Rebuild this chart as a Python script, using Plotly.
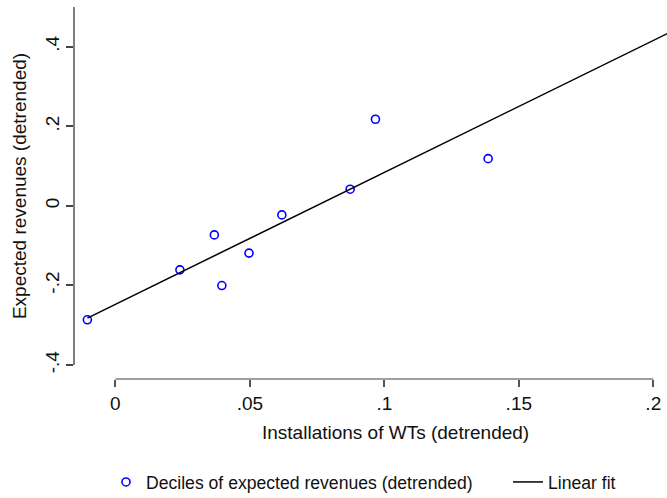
import plotly.graph_objects as go

# Data
decile_x = [-0.0104, 0.0240, 0.0368, 0.0396, 0.0497, 0.0619, 0.0873, 0.0967, 0.1386]
decile_y = [-0.2864, -0.1608, -0.0729, -0.2003, -0.1188, -0.0226, 0.0420, 0.2178, 0.1188]
fit_x = [-0.0104, 0.21]
fit_y = [-0.282, 0.449]

x_ticks = [0, 0.05, 0.1, 0.15, 0.2]
x_ticklabels = ["0", ".05", ".1", ".15", ".2"]
y_ticks = [-0.4, -0.2, 0, 0.2, 0.4]
y_ticklabels = ["-.4", "-.2", "0", ".2", ".4"]
x_title = "Installations of WTs (detrended)"
y_title = "Expected revenues (detrended)"

FONT = "Liberation Sans, Arial, sans-serif"
W, H = 667, 498
M_L, M_R, M_T, M_B = 75, 0, 7, 119
plot_h = H - M_T - M_B
ydom_bottom = (379 - 365) / plot_h

fig = go.Figure()
fig.add_trace(go.Scatter(
    x=decile_x, y=decile_y, mode="markers",
    name="Deciles of expected revenues (detrended)",
    marker=dict(symbol="circle-open", size=8, color="#0000ff", line=dict(width=1.6, color="#0000ff")),
    cliponaxis=False, legend="legend",
))
fig.add_trace(go.Scatter(
    x=fit_x, y=fit_y, mode="lines", name="Linear fit",
    line=dict(color="#000000", width=1.5), legend="legend2",
))

axis_gray = "#7f7f7f"
leg_common = dict(
    orientation="h", xref="container", yref="container",
    xanchor="left", yanchor="middle",
    font=dict(size=17.6), bgcolor="rgba(0,0,0,0)",
)
fig.update_layout(
    width=W, height=H,
    margin=dict(l=M_L, r=M_R, t=M_T, b=M_B, autoexpand=False),
    paper_bgcolor="white", plot_bgcolor="white",
    font=dict(family=FONT, size=19, color="#111111"),
    xaxis=dict(
        range=[-0.015, 0.2051], domain=[0, 1], anchor="free", position=0,
        automargin=False,
        showline=False, showgrid=False, zeroline=False,
        ticks="outside", ticklen=7, tickwidth=1.5, tickcolor="#555555",
        tickvals=x_ticks, ticktext=x_ticklabels, tickfont=dict(size=19),
    ),
    yaxis=dict(
        range=[-0.4, 0.5], domain=[ydom_bottom, 1], automargin=False,
        showline=True, linecolor=axis_gray, linewidth=1.5,
        showgrid=False, zeroline=False,
        ticks="outside", ticklen=7, tickwidth=1.5, tickcolor="#444444",
        tickvals=y_ticks, ticktext=y_ticklabels, tickangle=-90, tickfont=dict(size=19),
        title=dict(text=y_title, font=dict(size=19), standoff=10),
    ),
    legend=dict(x=106 / W, y=1 - 482 / H, **leg_common),
    legend2=dict(x=508 / W, y=1 - 482 / H, **leg_common),
    showlegend=True,
    shapes=[dict(
        type="line", xref="x", yref="paper",
        x0=x_ticks[0], x1=x_ticks[-1], y0=0, y1=0,
        line=dict(color=axis_gray, width=1.5),
    )],
    annotations=[dict(
        text=x_title, xref="x", yref="paper", x=0.1043, y=-(432 - 379) / plot_h,
        xanchor="center", yanchor="middle", showarrow=False, font=dict(size=19),
    )],
)

fig.write_html("out.html", post_script="document.body.style.margin='0';",
               config={"displayModeBar": False})
